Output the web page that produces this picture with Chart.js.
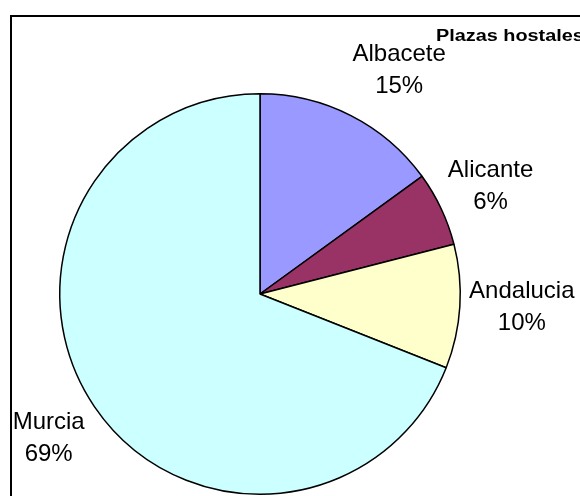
<!DOCTYPE html>
<html>
<head>
<meta charset="utf-8">
<script src="https://cdn.jsdelivr.net/npm/chart.js@4/dist/chart.umd.min.js"></script>
<style>
    body { margin: 0; background: #fff; }
    #plazas { display: block; }
</style>
</head>
<body>
<canvas id="plazas" width="580" height="496"></canvas>
<script>
const provincias = ['Albacete', 'Alicante', 'Andalucia', 'Murcia'];
const porcentajes = [15, 6, 10, 69];
const colores = ['#9999FF', '#993366', '#FFFFCC', '#CCFFFF'];
const titulo = 'Plazas hostales';

// small nudges so labels sit where Excel put them
const labelNudge = [[21, 8], [-5, 3], [2, -3], [4, -2]];

const frameAndTitle = {
    id: 'frameAndTitle',
    beforeDraw(chart) {
        const ctx = chart.ctx;
        ctx.save();
        ctx.fillStyle = '#fff';
        ctx.fillRect(0, 0, chart.width, chart.height);
        ctx.strokeStyle = '#000';
        ctx.lineWidth = 2;
        ctx.strokeRect(11, 16, 800, 800);
        ctx.restore();
    },
    afterDraw(chart) {
        const ctx = chart.ctx;
        ctx.save();
        ctx.translate(436, 41);
        ctx.scale(1.24, 1);
        ctx.font = 'bold 16px "Liberation Sans", Arial, sans-serif';
        ctx.fillStyle = '#000';
        ctx.textAlign = 'left';
        ctx.textBaseline = 'alphabetic';
        ctx.fillText(titulo, 0, 0);
        ctx.restore();
    }
};

const outsideLabels = {
    id: 'outsideLabels',
    afterDatasetsDraw(chart) {
        const ctx = chart.ctx;
        const meta = chart.getDatasetMeta(0);
        const data = chart.data.datasets[0].data;
        const total = data.reduce((a, b) => a + b, 0);
        ctx.save();
        ctx.font = '24px "Liberation Sans", Arial, sans-serif';
        ctx.fillStyle = '#000';
        ctx.textAlign = 'center';
        ctx.textBaseline = 'middle';
        meta.data.forEach((arc, i) => {
            const mid = (arc.startAngle + arc.endAngle) / 2;
            const r = arc.outerRadius * 1.3;
            const x = arc.x + Math.cos(mid) * r + labelNudge[i][0];
            const y = arc.y + Math.sin(mid) * r + labelNudge[i][1];
            const pct = Math.round(data[i] / total * 100) + '%';
            ctx.fillText(chart.data.labels[i], x, y - 16);
            ctx.fillText(pct, x, y + 16);
        });
        ctx.restore();
    }
};

new Chart(document.getElementById('plazas'), {
    type: 'pie',
    data: {
        labels: provincias,
        datasets: [{
            data: porcentajes,
            backgroundColor: colores,
            borderColor: '#000',
            borderWidth: 1.5
        }]
    },
    options: {
        responsive: false,
        animation: false,
        layout: {
            padding: { left: 59, right: 119, top: 93, bottom: 1 }
        },
        plugins: {
            legend: { display: false },
            tooltip: { enabled: false },
            title: { display: false }
        }
    },
    plugins: [frameAndTitle, outsideLabels]
});
</script>
</body>
</html>
